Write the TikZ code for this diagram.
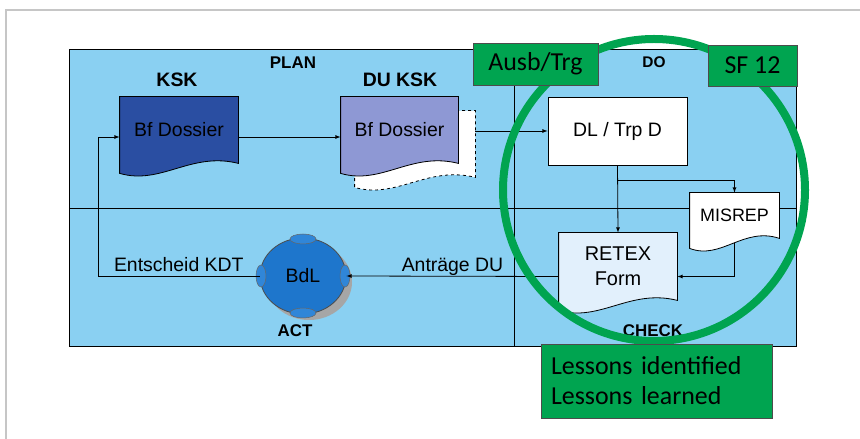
\documentclass[tikz,border=0pt]{standalone}
\usepackage{fontspec}
\setmainfont{Liberation Sans}
\newfontfamily\calibrifont{Carlito}
\usetikzlibrary{calc,shapes.geometric}

\definecolor{pdcablue}{RGB}{138,208,242}
\definecolor{kskblue}{RGB}{42,78,162}
\definecolor{dulilac}{RGB}{142,152,212}
\definecolor{retexblue}{RGB}{226,240,252}
\definecolor{bdlblue}{RGB}{30,118,204}
\definecolor{bumpblue}{RGB}{48,134,216}
\definecolor{ringgreen}{RGB}{0,164,80}

\tikzset{
  docbox/.style={rectangle, draw=none, inner sep=0pt},
  doctext/.style={font=\fontsize{19.5}{23}\selectfont, align=center},
  phase/.style={font=\bfseries\fontsize{17}{19}\selectfont},
  greenbox/.style={rectangle, fill=ringgreen, draw=black!70, line width=0.8bp,
    font=\calibrifont\fontsize{26}{30}\selectfont, inner sep=0pt},
  flowlbl/.style={above, text depth=0pt, inner sep=4bp, font=\fontsize{19.5}{23}\selectfont},
}

% document shape with wavy bottom
\newcommand{\docoutline}[3]{%
  \filldraw[fill=#2, draw=black, line width=0.8bp, #3] (#1.north west) -- (#1.north east) -- (#1.south east)
    .. controls ($(#1.south west)!0.6!(#1.south east)+(0,-12)$) and ($(#1.south west)!0.35!(#1.south east)+(0,22)$)
    .. ($(#1.south west)+(0,10)$) -- cycle;}

\begin{document}
\begin{tikzpicture}[x=1bp, y=-1bp, >=latex, line width=0.8bp]
\useasboundingbox (0,0) rectangle (860,439);

% frame
\draw[gray!45, line width=2.5bp] (6,439) -- (6,10) -- (860,10);

% background and quadrants
\filldraw[fill=pdcablue, draw=black] (69,49) rectangle (796,346);
\draw (69,208) -- (796,208);
\draw (514,49) -- (514,346);

% Plan
\node[phase] (plan) at (293,63) {PLAN};
\node[phase, font=\bfseries\fontsize{19.5}{21}\selectfont] (ksklbl) at (177,80) {KSK};
\node[phase, font=\bfseries\fontsize{19.5}{21}\selectfont] (duklbl) at (400,80) {DU KSK};

\node[docbox, minimum width=118bp, minimum height=66bp] (ksk) at (179,130) {};
\docoutline{ksk}{kskblue}{}
\node[doctext] (ksktxt) at (ksk) {Bf Dossier};

\node[docbox, minimum width=120bp, minimum height=66bp] (dushadow) at (415,144) {};
\docoutline{dushadow}{white}{dashed}
\node[docbox, minimum width=117bp, minimum height=66bp] (du) at (399.5,130) {};
\docoutline{du}{dulilac}{}
\node[doctext] (dutxt) at (du) {Bf Dossier};

% Do / Check
\node[phase, font=\bfseries\fontsize{15.5}{17}\selectfont] (do) at (654,62) {DO};
\node[rectangle, fill=white, draw=black, minimum width=139bp, minimum height=68bp, doctext] (dl) at (617.5,131) {DL / Trp D};

\node[docbox, minimum width=89bp, minimum height=45bp] (misrep) at (734.5,215.5) {};
\docoutline{misrep}{white}{}
\node[doctext, font=\fontsize{18}{20}\selectfont] (misreptxt) at (misrep) {MISREP};

\node[docbox, minimum width=118bp, minimum height=67bp] (retex) at (618,266.5) {};
\docoutline{retex}{retexblue}{}
\node[doctext, font=\fontsize{20}{25}\selectfont] (retextxt) at (retex) {RETEX\\Form};
\node[phase] (check) at (653,331) {CHECK};

% Act
\fill[gray!70] (309,282) ellipse [x radius=43, y radius=38];
\node[ellipse, fill=bdlblue, draw=black!70, minimum width=86bp, minimum height=76bp, doctext] (bdl) at (303,276) {};
\foreach \bx/\by/\rx/\ry in {303/239/13/5, 303/313/13/5, 261/276/5/11, 345/276/5/11}
  \filldraw[fill=bumpblue, draw=black!60, line width=0.5bp] (\bx,\by) ellipse [x radius=\rx, y radius=\ry];
\node[doctext] (bdltxt) at (bdl) {BdL};
\node[phase] (act) at (295,331) {ACT};

% flow
\coordinate (kdtturn) at (98,276);
\draw[->] ([yshift=-7bp]ksk.east) -- ([yshift=-7bp]du.west);
\draw[->] (dl.west -| dushadow.east) -- (dl.west);
\draw[->] (dl.south) -- (retex.north);
\draw[->] ($(dl.south)+(0,15)$) -| (misrep.north);
\draw[->] ([yshift=-5bp]misrep.south) |- ([yshift=-10bp]retex.east);
\draw[->] ([yshift=-10bp]retex.west) -- node[flowlbl] (antrlbl) {Anträge DU} (bdl.east);
\draw[->] (bdl.west) -- node[flowlbl] (kdtlbl) {Entscheid KDT} (kdtturn) |- ([yshift=-7bp]ksk.west);

% PDCA ring and tags
\node[circle, draw=ringgreen, line width=8bp, minimum size=302bp, inner sep=0pt] (ring) at (654,190) {};
\node[greenbox, minimum width=125bp, minimum height=42bp] (ausb) at (535.5,64) {Ausb/Trg};
\node[greenbox, minimum width=89bp, minimum height=41bp] (sf) at (752.5,65.5) {SF 12};
\node[greenbox, minimum height=74bp, text width=211bp, inner xsep=10bp, align=left] (lessons) at (656.5,381)
  {Lessons identified\\Lessons learned};
\end{tikzpicture}
\end{document}
